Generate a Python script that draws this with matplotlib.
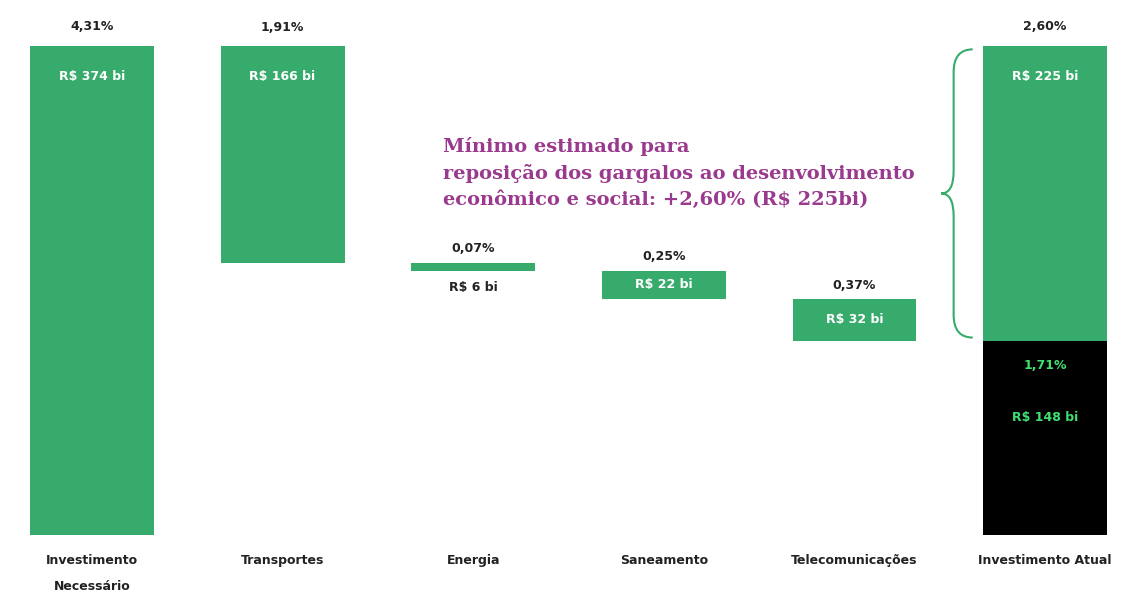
import numpy as np
import matplotlib.pyplot as plt
from matplotlib.path import Path
from matplotlib.patches import PathPatch

categories = ['Investimento\nNecessário', 'Transportes', 'Energia', 'Saneamento',
              'Telecomunicações', 'Investimento Atual']
necessario_pct = 4.31
necessario_bi = 374
setor_pct = [1.91, 0.07, 0.25, 0.37]
setor_bi = [166, 6, 22, 32]
atual_pct = 1.71
atual_bi = 148
gap_pct = 2.60
gap_bi = 225

GREEN = '#37ab6b'
PURPLE = '#9a3a8e'
LIGHT_GREEN = '#3fe070'


def fmt(v):
    return f"{v:.2f}".replace('.', ',') + '%'


fig = plt.figure(figsize=(11.34, 5.95), dpi=100)
ax = fig.add_axes([0, 0, 1, 1])
ax.set_xlim(-0.482, 5.466)
ax.set_ylim(-0.529, 4.715)
ax.axis('off')

w = 0.65
lab_font = dict(fontsize=9, fontweight='bold', family='DejaVu Sans')

# total necessary
x = np.arange(len(categories))
ax.bar(x[0], necessario_pct, width=w, color=GREEN)
ax.annotate(fmt(necessario_pct), (x[0], necessario_pct), xytext=(0, 14), textcoords='offset points',
            ha='center', va='center', color='#222222', **lab_font)
ax.annotate(f"R$ {necessario_bi} bi", (x[0], necessario_pct), xytext=(0, -22), textcoords='offset points',
            ha='center', va='center', color='white', **lab_font)

# sector steps (waterfall going down)
top = necessario_pct
for i, (p, b) in enumerate(zip(setor_pct, setor_bi)):
    xi = x[i + 1]
    bottom = top - p
    ax.bar(xi, p, bottom=bottom, width=w, color=GREEN)
    ax.annotate(fmt(p), (xi, top), xytext=(0, 13 if i == 0 else 10), textcoords='offset points',
                ha='center', va='center', color='#222222', **lab_font)
    if i == 0:
        ax.annotate(f"R$ {b} bi", (xi, top), xytext=(0, -22), textcoords='offset points',
                    ha='center', va='center', color='white', **lab_font)
    elif p < 0.15:
        ax.annotate(f"R$ {b} bi", (xi, bottom), xytext=(0, -12), textcoords='offset points',
                    ha='center', va='center', color='#222222', **lab_font)
    else:
        ax.text(xi, bottom + p / 2, f"R$ {b} bi", ha='center', va='center', color='white', **lab_font)
    top = bottom

# current investment + gap
xa = x[-1]
ax.bar(xa, atual_pct, width=w, color='black')
ax.bar(xa, gap_pct, bottom=atual_pct, width=w, color=GREEN)
ax.annotate(fmt(gap_pct), (xa, atual_pct + gap_pct), xytext=(0, 14), textcoords='offset points',
            ha='center', va='center', color='#222222', **lab_font)
ax.annotate(f"R$ {gap_bi} bi", (xa, atual_pct + gap_pct), xytext=(0, -22), textcoords='offset points',
            ha='center', va='center', color='white', **lab_font)
ax.annotate(fmt(atual_pct), (xa, atual_pct), xytext=(0, -18), textcoords='offset points',
            ha='center', va='center', color=LIGHT_GREEN, **lab_font)
ax.annotate(f"R$ {atual_bi} bi", (xa, atual_pct), xytext=(0, -55), textcoords='offset points',
            ha='center', va='center', color=LIGHT_GREEN, **lab_font)

# category labels
for xi, c in zip(x, categories):
    ax.text(xi, -0.17, c, ha='center', va='top', fontsize=9, fontweight='bold',
            color='#222222', linespacing=2.3, family='DejaVu Sans')

# brace
y_top = atual_pct + gap_pct - 0.03
y_bot = atual_pct + 0.03
y_mid = (y_top + y_bot) / 2
x_end, x_mid, x_tip = 4.62, 4.52, 4.455
r = 0.2
verts = [(x_end, y_top), (x_mid, y_top), (x_mid, y_top - r),
         (x_mid, y_mid + r),
         (x_mid, y_mid), (x_tip, y_mid),
         (x_mid, y_mid), (x_mid, y_mid - r),
         (x_mid, y_bot + r),
         (x_mid, y_bot), (x_end, y_bot)]
codes = [Path.MOVETO, Path.CURVE3, Path.CURVE3,
         Path.LINETO,
         Path.CURVE3, Path.CURVE3,
         Path.CURVE3, Path.CURVE3,
         Path.LINETO,
         Path.CURVE3, Path.CURVE3]
ax.add_patch(PathPatch(Path(verts, codes), fill=False, edgecolor=GREEN, lw=1.5))

# annotation
ax.text(1.84, 3.19, "Mínimo estimado para\nreposição dos gargalos ao desenvolvimento\n"
        "econômico e social: +2,60% (R$ 225bi)",
        ha='left', va='center', fontsize=14, fontweight='bold', color=PURPLE,
        family='DejaVu Serif', linespacing=1.5)

fig.savefig('out.png', dpi=100)
